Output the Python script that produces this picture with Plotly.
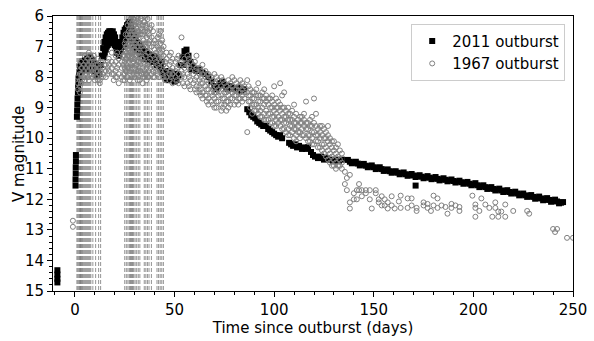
import plotly.graph_objects as go

# ---------------- data ----------------
# 2011 outburst (days since outburst, V magnitude)
t_2011 = [
    -8.8, -8.8, -8.8, -8.8,
    0.3, 0.3, 0.4, 0.4, 0.5, 0.5,
    1.0, 1.1, 1.2, 1.3, 1.5, 1.6, 1.8, 2.0, 2.2, 2.5, 2.8,
    3.2, 3.8, 4.4, 5.0, 5.6, 6.2, 6.8, 7.4, 8.0, 8.6, 9.2, 9.8, 10.4, 11.0, 11.6, 12.2,
    4.0, 6.0, 8.0, 10.0, 3.5, 5.0, 7.0, 9.0, 11.0,
    13.0, 13.6, 14.2, 14.8, 15.4, 16.0, 16.6, 17.2, 17.8, 18.4, 19.0, 19.6, 20.2,
    15.0, 16.0, 17.0, 18.0, 19.0, 20.0, 14.5, 15.5, 16.5, 17.5, 18.5, 19.5, 20.5,
    21.0, 22.0, 23.0,
    20.8, 21.4, 22.0, 22.6, 23.2, 23.8, 24.4, 25.0, 25.6, 26.2, 26.8, 27.4, 28.0, 28.6,
    24.5, 25.5, 26.5, 27.5, 28.5, 24.0, 25.0, 26.0, 27.0, 28.0, 29.0, 30.0,
    29.2, 29.8, 30.4, 31.0, 31.6, 32.2, 32.8, 33.4, 34.0,
    35.0, 36.0, 37.0, 38.0, 39.0, 40.0, 41.0,
    31.0, 33.0, 35.0, 37.0, 39.0, 41.0,
    42.0, 43.0, 44.0, 45.0, 46.0, 47.0, 48.0, 49.0, 50.0, 51.0, 52.0,
    43.5, 45.5, 48.5, 51.5,
    53.0, 54.0, 55.0, 56.0, 57.0, 58.0, 59.0, 60.0, 61.0, 62.5, 64.0, 65.5,
    54.5, 56.5, 58.5,
    67.0, 68.5, 70.0, 71.0, 72.0, 73.0, 74.0, 75.0, 76.0, 77.0, 78.0, 79.0, 80.5, 82.0, 83.5, 85.0,
    86.5, 87.5, 88.5, 89.5, 90.5, 91.5, 92.5, 93.5, 94.5, 96.0, 97.0, 98.0, 99.0, 100.0,
    101.0, 102.0, 103.0, 104.0,
    107.5, 108.5, 109.5, 110.5, 111.5, 112.5, 114.0, 115.0, 116.0, 117.0,
    118.5, 119.5, 120.5, 122.0, 123.5, 125.0, 126.5, 128.0, 129.5, 131.0, 132.5, 134.0,
    137, 139, 141, 143, 145, 147, 149, 151, 153, 155, 157, 159, 161, 163, 165, 167,
    169, 171, 173, 175, 177, 179, 181, 183, 185, 187, 189, 191, 193, 195, 197, 199,
    201, 203, 205, 207, 209, 211, 213, 215, 217, 219, 221, 223, 225, 227, 229, 231,
    233, 235, 237, 239, 241, 243, 245,
    138, 140, 142, 144, 146, 148, 150, 152, 154, 156, 158, 160, 162, 164, 166, 168,
    170, 172, 174, 176, 178, 180, 182, 184, 186, 188, 190, 192, 194, 196, 198, 200,
    202, 204, 206, 208, 210, 212, 214, 216, 218, 220, 222, 224, 226, 228, 230, 232,
    234, 236, 238, 240, 242, 244,
    171,
]
v_2011 = [
    14.32, 14.46, 14.6, 14.72,
    11.55, 11.35, 11.15, 10.95, 10.75, 10.55,
    9.3, 9.1, 8.9, 8.7, 8.5, 8.3, 8.15, 8.0, 7.85, 7.75, 7.65,
    7.6, 7.5, 7.55, 7.45, 7.5, 7.4, 7.45, 7.35, 7.4, 7.5, 7.45, 7.55, 7.65, 7.75, 7.85, 7.9,
    7.75, 7.7, 7.7, 7.8, 7.8, 7.75, 7.75, 7.75, 7.95,
    7.6, 7.3, 7.05, 6.85, 6.7, 6.6, 6.55, 6.5, 6.5, 6.55, 6.5, 6.6, 6.7,
    7.2, 7.0, 6.85, 6.85, 6.9, 6.95, 7.35, 7.1, 6.95, 6.7, 6.7, 6.75, 7.0,
    7.2, 7.3, 7.1,
    6.85, 7.0, 7.1, 7.0, 6.85, 6.7, 6.55, 6.45, 6.4, 6.3, 6.25, 6.2, 6.3, 6.45,
    6.9, 6.75, 6.7, 6.6, 6.7, 7.0, 6.9, 6.55, 6.45, 6.55, 6.85, 6.95,
    6.6, 6.7, 6.8, 6.85, 6.9, 6.95, 7.0, 7.05, 7.1,
    7.15, 7.2, 7.25, 7.3, 7.3, 7.35, 7.4,
    7.1, 7.25, 7.4, 7.45, 7.5, 7.6,
    7.55, 7.7, 7.85, 7.95, 8.05, 8.1, 8.0, 8.05, 8.15, 8.1, 7.95,
    7.5, 7.8, 7.85, 7.9,
    7.6, 7.35, 7.15, 7.1, 7.3, 7.5, 7.65, 7.75, 7.8, 7.75, 7.85, 7.9,
    7.6, 7.4, 7.75,
    8.0, 8.15, 8.3, 8.4, 8.3, 8.2, 8.15, 8.25, 8.35, 8.4, 8.3, 8.35, 8.4, 8.35, 8.45, 8.4,
    9.05, 9.15, 9.25, 9.3, 9.35, 9.45, 9.5, 9.55, 9.6, 9.6, 9.7, 9.75, 9.8, 9.85,
    9.9, 9.95, 9.9, 10.0,
    10.15, 10.2, 10.25, 10.2, 10.3, 10.25, 10.35, 10.3, 10.35, 10.3,
    10.45, 10.55, 10.6, 10.65, 10.6, 10.7, 10.65, 10.7, 10.75, 10.7, 10.75, 10.7,
    10.71, 10.82, 10.77, 10.89, 10.84, 10.95, 10.89, 11.01, 10.95, 11.07, 11.02, 11.13, 11.08, 11.18, 11.12, 11.23,
    11.17, 11.27, 11.21, 11.31, 11.24, 11.34, 11.27, 11.38, 11.31, 11.41, 11.35, 11.45, 11.39, 11.49, 11.43, 11.54,
    11.47, 11.60, 11.54, 11.66, 11.60, 11.71, 11.65, 11.76, 11.70, 11.81, 11.75, 11.87, 11.81, 11.92, 11.86, 11.98,
    11.91, 12.03, 11.96, 12.08, 12.01, 12.13, 12.09,
    10.77, 10.80, 10.83, 10.86, 10.90, 10.92, 10.95, 10.98, 11.01, 11.05, 11.08, 11.10, 11.13, 11.15, 11.18, 11.20,
    11.22, 11.24, 11.26, 11.28, 11.29, 11.31, 11.33, 11.35, 11.36, 11.38, 11.40, 11.42, 11.44, 11.46, 11.49, 11.51,
    11.54, 11.57, 11.60, 11.63, 11.66, 11.68, 11.71, 11.73, 11.76, 11.78, 11.81, 11.84, 11.87, 11.89, 11.92, 11.95,
    11.97, 12.00, 12.02, 12.05, 12.07, 12.11,
    11.55,
]

# 1967 outburst: observing epochs (days) and the magnitudes read at each epoch
t_1967_epochs = [
    -1.0, 1.5, 2.5, 3.5, 4.5, 5.5, 6.5, 7.5, 8.5, 9.5, 10.5, 11.5, 12.5, 14.0, 15.5, 17.0,
    18.5, 20.5, 22.0, 23.5, 25.0, 26.0, 27.0, 28.0, 29.0, 30.0, 31.0, 32.0, 33.0, 34.0,
    35.0, 36.0, 37.0, 38.5, 40.0, 41.5, 43.0, 44.5, 46.0, 47.5, 49.0, 50.5, 52.0, 53.5,
    55.0, 56.5, 58.0, 59.5, 61.0, 62.5, 64.0, 65.5, 67.0, 68.5, 70.0, 72.0, 73.5, 75.0,
    77.0, 79.0, 81.0, 83.0, 85.0, 86.5, 88.0, 90.0, 92.0, 94.0, 96.0, 98.0, 100.0, 102.0,
    104.0, 106.0, 108.0, 110.0, 112.0, 114.0, 116.0, 118.0, 120.0, 122.0, 124.0, 126.0,
    128.0, 130.0, 132.0, 134.0, 135.5, 136.5, 138.0, 140.0, 141.5, 142.6, 144.0, 146.0,
    148.0, 149.0, 151.0, 152.5, 154.0, 155.5, 157.0, 159.0, 160.5, 162.6, 163.5, 167.0,
    169.0, 171.5, 175.0, 177.0, 178.7, 180.0, 182.0, 184.0, 186.0, 187.0, 189.0, 191.0,
    193.0, 199.5, 201.0, 203.0, 204.0, 206.0, 208.0, 209.5, 211.0, 212.5, 214.0, 216.0,
    220.0, 227.0, 228.0, 240.0, 241.0, 242.0, 247.0, 250.0,
    # additional epochs
    2.0, 3.0, 5.0, 7.0, 9.0, 10.0, 13.0, 16.5, 19.5, 21.2, 24.2,
    25.5, 26.5, 27.5, 28.5, 29.5, 30.5, 31.5, 32.5, 33.5, 34.5, 35.5, 36.5, 37.8, 39.2,
    40.8, 42.2, 43.8,
    45.2, 48.2, 51.2, 54.2, 57.2, 60.2, 63.2, 66.2, 69.2, 71.0, 74.2, 76.0, 78.0, 80.0,
    82.0, 84.0, 87.2, 89.0, 91.0, 93.0, 95.0, 97.0, 99.0, 101.0, 103.0, 105.0, 107.0,
    109.0, 111.0, 113.0, 115.0, 117.0, 119.0, 121.0, 123.0, 125.0, 127.0, 129.0, 131.0, 133.0,
]
v_1967_epochs = [
    [12.7, 12.9], [8.0, 8.2, 8.4], [7.9, 8.1, 8.3, 8.5], [7.7, 7.9, 8.1], [7.6, 7.8, 8.0],
    [7.5, 7.7, 7.9], [7.4, 7.6, 7.8, 8.0], [7.3, 7.5, 7.7, 7.9], [7.5, 7.7, 7.9],
    [7.3, 7.5, 7.7, 7.9], [7.6, 7.8, 8.0], [7.4, 7.6, 7.8, 8.1], [7.7, 7.9, 8.1, 8.2],
    [7.5, 7.7, 7.9, 8.0], [7.6, 7.8, 8.0], [7.4, 7.6, 7.8],
    [7.2, 7.5, 7.7, 7.9], [7.3, 7.5, 7.8, 8.0], [7.4, 7.6, 7.9, 8.2], [7.2, 7.5, 7.7, 8.0],
    [6.9, 7.1, 7.3, 7.5, 7.7, 7.9, 8.1], [7.0, 7.2, 7.4, 7.6, 7.8, 8.0],
    [6.5, 6.7, 6.9, 7.1, 7.3, 7.5, 7.7], [6.1, 6.3, 6.6, 6.8, 7.0, 7.2, 7.4, 7.6],
    [6.2, 6.4, 6.6, 6.8, 7.0, 7.2, 7.4], [6.3, 6.5, 6.7, 6.9, 7.1, 7.4, 7.7, 8.0],
    [6.0, 6.4, 6.6, 6.8, 7.0, 7.3, 7.6, 7.9], [6.2, 6.5, 6.7, 7.0, 7.2, 7.5, 7.8, 8.0],
    [6.1, 6.4, 6.6, 6.9, 7.2, 7.5, 7.8], [6.3, 6.6, 6.9, 7.4, 7.7, 8.0, 8.2],
    [6.0, 6.2, 6.5, 7.6, 7.8, 8.0], [6.4, 6.7, 7.0, 7.7, 7.9, 8.1], [6.6, 6.9, 7.2, 7.5, 7.8, 8.0],
    [6.3, 6.7, 7.0, 7.6, 7.9], [6.8, 7.1, 7.4, 7.7, 8.0], [6.7, 7.0, 7.3, 7.6, 7.9],
    [6.5, 6.9, 7.2, 7.5, 7.8], [7.0, 7.3, 7.6, 8.0], [7.2, 7.4, 7.7, 8.0], [7.3, 7.6, 7.9, 8.1],
    [7.4, 7.7, 7.9, 8.2], [7.5, 7.8, 8.0], [7.3, 7.6, 7.9, 8.2], [6.7, 7.5, 7.8, 8.0],
    [7.4, 7.7, 8.0, 8.3], [7.3, 7.6, 7.9, 8.2], [7.5, 7.8, 8.1, 8.4], [7.6, 7.9, 8.2],
    [7.3, 7.7, 8.0, 8.3, 8.5], [7.7, 7.9, 8.1, 8.3, 8.5], [7.6, 7.9, 8.2, 8.5, 8.7],
    [7.8, 8.0, 8.3, 8.6], [7.9, 8.2, 8.4, 8.7, 8.9], [8.0, 8.3, 8.5, 8.8],
    [7.9, 8.2, 8.5, 8.7, 9.0], [8.1, 8.4, 8.6, 8.8], [8.0, 8.3, 8.6, 8.9, 9.1], [8.2, 8.5, 8.7, 8.9],
    [8.1, 8.4, 8.6, 8.8, 9.0], [8.0, 8.3, 8.5, 8.7], [8.2, 8.4, 8.6, 8.8], [8.1, 8.3, 8.5, 8.7],
    [8.3, 8.5, 8.7], [8.1, 8.5, 9.8], [8.4, 8.6, 8.8, 9.0], [8.5, 8.7, 8.9, 9.1],
    [8.2, 8.6, 8.8, 9.0, 9.2], [8.5, 8.7, 9.0, 9.3], [8.6, 8.8, 9.1, 9.4], [8.7, 9.0, 9.2, 9.5],
    [8.3, 8.9, 9.1, 9.3, 9.6], [8.8, 9.0, 9.3, 9.5],
    [8.6, 9.0, 9.2, 9.4, 9.7], [9.1, 9.3, 9.5, 9.8], [9.2, 9.4, 9.6, 9.9], [8.9, 9.3, 9.5, 9.7, 10.0],
    [9.4, 9.6, 9.8], [9.3, 9.5, 9.7, 9.9], [8.8, 9.5, 9.7, 10.0], [9.4, 9.6, 9.9, 10.1],
    [8.7, 9.5, 9.8, 10.2], [9.7, 9.9, 10.1, 10.3], [9.6, 9.9, 10.2, 10.4], [9.8, 10.0, 10.3, 10.6],
    [10.0, 10.2, 10.5, 10.8], [10.1, 10.4, 10.7, 10.9], [10.2, 10.6, 10.9], [10.5, 10.8, 11.0],
    [11.1, 11.5], [11.3, 11.7], [11.2, 12.1, 12.3], [11.8, 12.0], [11.7, 12.0], [11.5, 11.7],
    [11.7, 11.9], [11.7, 11.8],
    [11.7, 12.0], [12.3], [11.7, 11.8], [12.0, 12.1], [11.9, 12.2], [12.0, 12.2], [12.1, 12.3],
    [11.9, 12.2], [12.3], [12.07], [11.88, 12.28], [11.97, 12.28],
    [11.97, 12.2], [12.28, 12.38], [12.1, 12.2], [12.15, 12.28], [12.38], [11.88, 12.2],
    [11.97, 12.28], [12.2], [12.25], [12.47], [12.15, 12.28], [12.2],
    [12.38, 12.25], [11.88], [12.17, 12.28, 12.57], [12.38], [11.97], [12.17], [12.28], [12.57],
    [12.28, 12.1], [12.4, 12.57], [12.4], [12.17, 12.57],
    [12.38], [12.38], [12.47], [12.97], [13.07], [12.97], [13.26], [13.26],
    # additional epochs
    [7.6, 7.8], [7.5, 8.2], [7.3, 8.1], [7.2, 8.1], [7.4, 8.0], [7.7, 8.1], [7.5, 7.8, 8.0],
    [7.5, 7.7, 7.9], [7.6, 7.9, 8.1], [7.2, 7.7, 8.0], [7.3, 7.6, 7.9, 8.1],
    [6.6, 6.8, 7.0, 7.4, 7.8], [6.3, 6.6, 7.3, 7.7, 8.0], [6.2, 6.4, 6.8, 7.2, 7.8, 8.1],
    [6.0, 6.5, 6.9, 7.3, 7.7, 8.0], [6.1, 6.3, 6.7, 7.1, 7.5, 7.9], [6.2, 6.6, 6.9, 7.3, 7.6, 7.8],
    [6.1, 6.5, 7.2, 7.5, 7.8, 8.1], [6.3, 6.6, 6.9, 7.3, 7.7, 8.1], [6.0, 6.5, 7.0, 7.4, 7.9],
    [6.2, 6.8, 7.1, 7.5, 7.9], [6.3, 6.9, 7.3, 7.9], [6.1, 6.5, 7.2, 7.6, 8.0],
    [6.4, 6.8, 7.4, 7.7], [6.5, 6.9, 7.3, 7.8, 8.0],
    [6.9, 7.2, 7.5, 7.8], [6.6, 7.1, 7.4, 7.7, 8.0], [6.8, 7.1, 7.4, 7.9],
    [7.5, 7.8, 8.1], [7.2, 7.5, 7.8, 8.0], [7.4, 7.7, 8.1], [7.6, 7.9, 8.2],
    [7.4, 7.7, 8.0, 8.3], [7.5, 7.8, 8.1, 8.4], [7.8, 8.0, 8.2, 8.4, 8.6],
    [7.9, 8.1, 8.4, 8.6, 8.8], [8.1, 8.4, 8.6, 8.9], [8.0, 8.3, 8.5, 8.8, 9.0],
    [8.1, 8.4, 8.7, 9.0], [8.3, 8.5, 8.8, 9.1], [8.2, 8.4, 8.7, 8.9], [8.1, 8.4, 8.6, 8.9],
    [8.3, 8.5, 8.7, 8.9], [8.2, 8.4, 8.6, 8.8], [8.3, 8.6, 8.8], [8.5, 8.7, 8.9, 9.2],
    [8.4, 8.6, 8.9, 9.1], [8.6, 8.8, 9.1, 9.3], [8.4, 8.7, 8.9, 9.2, 9.4], [8.7, 8.9, 9.2, 9.4],
    [8.6, 8.8, 9.0, 9.3, 9.5], [8.7, 9.0, 9.2, 9.4, 9.6], [8.2, 8.9, 9.1, 9.4, 9.6],
    [8.5, 9.0, 9.3, 9.5, 9.7], [9.0, 9.2, 9.4, 9.7, 9.9],
    [9.1, 9.4, 9.6, 9.8], [9.2, 9.5, 9.7, 9.9, 10.1], [9.3, 9.5, 9.8, 10.0], [9.2, 9.4, 9.6, 9.9],
    [9.5, 9.7, 9.9, 10.1], [9.3, 9.6, 9.8, 10.0, 10.2], [9.2, 9.6, 9.9, 10.1],
    [9.6, 9.8, 10.0, 10.3], [9.7, 10.0, 10.2, 10.5], [9.6, 9.9, 10.1, 10.4, 10.7],
    [10.1, 10.3, 10.6, 10.9], [10.3, 10.5, 10.8, 11.0], [10.4, 10.7, 10.9],
]

# epochs marked with dashed vertical lines (days)
marked_days = [
    1.0, 1.5, 2.0, 2.4, 2.8, 3.2, 3.6, 4.0, 4.5, 5.0, 5.5, 6.0, 6.5, 7.0, 7.5, 8.0,
    9.0, 10.4, 11.9, 12.9,
    25.0, 25.8, 26.6, 27.3, 27.8, 28.2, 28.6, 29.0, 29.5, 30.2, 31.0, 31.8, 32.6,
    34.8, 35.6, 36.4, 37.2, 38.4,
    41.2, 42.0, 42.8, 43.6, 44.4,
]

x_ticks = [0, 50, 100, 150, 200, 250]
y_ticks = [6, 7, 8, 9, 10, 11, 12, 13, 14, 15]

# ---------------- figure ----------------
t_1967, v_1967 = [], []
for d, mags in zip(t_1967_epochs, v_1967_epochs):
    for m in mags:
        t_1967.append(d)
        v_1967.append(m)

assert len(t_2011) == len(v_2011)
assert len(t_1967_epochs) == len(v_1967_epochs)

fig = go.Figure()

for d in marked_days:
    fig.add_shape(type="line", xref="x", yref="y", x0=d, x1=d, y0=6, y1=15,
                  line=dict(color="rgba(60,60,60,0.55)", width=1, dash="4px,2px"),
                  layer="below")

fig.add_trace(go.Scatter(
    x=t_2011, y=v_2011, mode="markers", name="2011 outburst",
    marker=dict(symbol="square", size=6, color="black", line=dict(width=0)),
    error_y=dict(type="constant", value=0.05, color="black", thickness=1, width=0),
))
fig.add_trace(go.Scatter(
    x=t_1967, y=v_1967, mode="markers", name="1967 outburst",
    marker=dict(symbol="circle-open", size=5, color="#808080", line=dict(width=1)),
))

axis_common = dict(
    showline=True, mirror=True, linecolor="black", linewidth=1,
    showgrid=False, zeroline=False, ticks="outside", ticklen=5, tickwidth=1,
    tickcolor="black", tickfont=dict(size=15, color="black"),
    ticklabeloverflow="allow",
)

fig.update_xaxes(
    range=[-11, 250], tickvals=x_ticks, ticktext=[str(v) for v in x_ticks],
    minor=dict(dtick=10, tick0=0, ticks="outside", ticklen=3, tickcolor="black"),
    title=dict(text="Time since outburst (days)", font=dict(size=15, color="black"), standoff=4),
    **axis_common,
)
fig.update_yaxes(
    range=[15, 6], tickvals=y_ticks, ticktext=[str(v) for v in y_ticks],
    minor=dict(dtick=0.2, tick0=6, ticks="outside", ticklen=3, tickcolor="black"),
    **axis_common,
)

fig.add_annotation(
    text="V magnitude", xref="paper", yref="paper", x=(18 - 53) / 527, y=0.5,
    textangle=-90, showarrow=False, xanchor="center", yanchor="middle",
    font=dict(size=15, color="black"),
)

fig.update_layout(
    width=594, height=341,
    margin=dict(l=53, r=14, t=7, b=48),
    paper_bgcolor="white", plot_bgcolor="white",
    font=dict(family="DejaVu Sans", size=15, color="black"),
    legend=dict(
        x=0.985, y=0.972, xanchor="right", yanchor="top",
        bgcolor="rgba(255,255,255,0.8)", bordercolor="#cccccc", borderwidth=1,
        font=dict(size=15, color="black"),
    ),
    showlegend=True,
)

fig.write_html("out.html")
